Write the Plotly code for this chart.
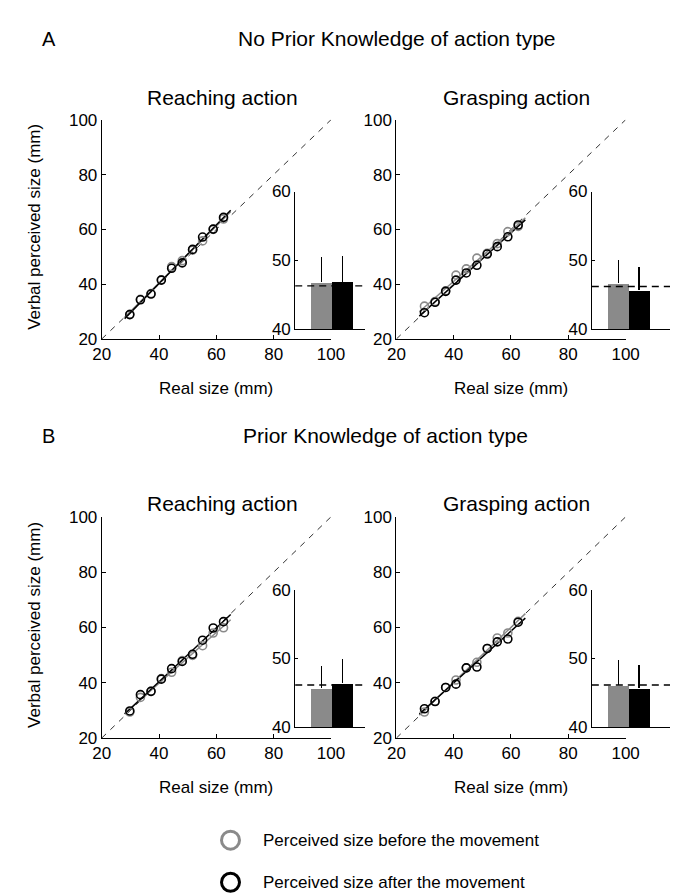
import numpy as np
import plotly.graph_objects as go

W, H = 678, 895
FONT = "Liberation Sans"

# ---------------- data ----------------
real_size = [29.8, 33.5, 37.2, 40.8, 44.4, 48.1, 51.7, 55.2, 58.9, 62.5]

a_reach_before = [29.0, 34.5, 36.6, 41.6, 46.4, 48.6, 52.4, 55.8, 60.0, 63.8]
a_reach_after = [28.9, 34.3, 36.4, 41.5, 45.8, 47.8, 52.7, 57.2, 60.1, 64.4]
a_grasp_before = [32.0, 33.7, 37.6, 43.3, 45.6, 49.5, 51.3, 54.8, 59.2, 61.1]
a_grasp_after = [29.6, 33.4, 37.4, 41.5, 44.1, 46.9, 51.0, 53.7, 57.3, 61.6]
b_reach_before = [29.4, 34.7, 36.9, 41.5, 43.8, 48.0, 49.9, 53.4, 58.0, 59.9]
b_reach_after = [29.8, 35.7, 36.9, 41.3, 45.1, 47.7, 50.3, 55.4, 59.8, 62.1]
b_grasp_before = [29.4, 33.3, 38.3, 41.0, 45.4, 47.4, 52.4, 56.2, 58.0, 62.2]
b_grasp_after = [30.6, 33.2, 38.3, 39.5, 45.4, 45.7, 52.4, 54.8, 55.8, 61.9]

fit_span = [28, 65]
identity_line = [20, 100]

bar_positions = [1, 2]  # before, after
a_reach_bar = [46.8, 46.9]
a_reach_err = [3.7, 3.8]
a_grasp_bar = [46.7, 45.65]
a_grasp_err = [3.3, 3.4]
b_reach_bar = [45.65, 46.36]
b_reach_err = [3.25, 3.55]
b_grasp_bar = [46.07, 45.65]
b_grasp_err = [3.7, 3.35]
ref_mean = [46.3, 46.2, 46.1, 46.1]

main_ticks = [20, 40, 60, 80, 100]
inset_ticks = [40, 50, 60]

section_titles = ["No Prior Knowledge of action type", "Prior Knowledge of action type"]
section_letters = ["A", "B"]
panel_titles = ["Reaching action", "Grasping action"]
legend_labels = ["Perceived size before the movement", "Perceived size after the movement"]

GRAY = "#8a8a8a"
BLACK = "#000000"

# ---------------- layout geometry (pixels) ----------------
main_x_px = [(87.7, 325.0), (392.7, 630.0)]
main_y_px = [(105.0, 329.0), (510.7, 736.7)]
inset_x_px = [(288.0, 360.0), (595.0, 677.0)]
inset_y_px = [(178.3, 319.0), (585.0, 725.3)]
inset_ranges = [[-0.27, 3.08], [-0.27, 3.54]]


def xd(a, b):
    return [a / W, b / W]


def yd(top, bottom):
    return [1 - bottom / H, 1 - top / H]


panels = [
    (a_reach_before, a_reach_after, a_reach_bar, a_reach_err, ref_mean[0]),
    (a_grasp_before, a_grasp_after, a_grasp_bar, a_grasp_err, ref_mean[1]),
    (b_reach_before, b_reach_after, b_reach_bar, b_reach_err, ref_mean[2]),
    (b_grasp_before, b_grasp_after, b_grasp_bar, b_grasp_err, ref_mean[3]),
]

fig = go.Figure()
layout = {}
shapes = []
annotations = []

axis_font = dict(family=FONT, size=17, color="black")

for i, (before, after, bars, errs, mean_val) in enumerate(panels):
    row, col = divmod(i, 2)
    mi = 2 * i + 1
    ii = 2 * i + 2
    mx, my = f"x{mi}", f"y{mi}"
    ix, iy = f"x{ii}", f"y{ii}"
    xk = "xaxis" if mi == 1 else f"xaxis{mi}"
    yk = "yaxis" if mi == 1 else f"yaxis{mi}"

    # main axes
    layout[xk] = dict(domain=xd(*main_x_px[col]), range=[20, 100], anchor=my,
                      showline=True, linecolor="black", linewidth=1, mirror=False,
                      ticks="inside", ticklen=4, tickcolor="black", tickvals=main_ticks,
                      showgrid=False, zeroline=False, tickfont=axis_font)
    layout[yk] = dict(domain=yd(*main_y_px[row]), range=[20, 100], anchor=mx,
                      showline=True, linecolor="black", linewidth=1,
                      ticks="inside", ticklen=4, tickcolor="black", tickvals=main_ticks,
                      showgrid=False, zeroline=False, tickfont=axis_font)
    # inset axes
    layout[f"xaxis{ii}"] = dict(domain=xd(*inset_x_px[col]), range=inset_ranges[col], anchor=iy,
                                showline=True, linecolor="black", linewidth=1,
                                ticks="", showticklabels=False, showgrid=False, zeroline=False)
    layout[f"yaxis{ii}"] = dict(domain=yd(*inset_y_px[row]), range=[40, 60], anchor=ix,
                                showline=True, linecolor="black", linewidth=1,
                                ticks="inside", ticklen=3, tickcolor="black", tickvals=inset_ticks,
                                showgrid=False, zeroline=False, tickfont=axis_font)

    # identity dashed line
    fig.add_trace(go.Scatter(x=identity_line, y=identity_line, mode="lines",
                             line=dict(color="#333333", width=1, dash="6px,6px"),
                             xaxis=mx, yaxis=my, showlegend=False, hoverinfo="skip"))
    # regression lines
    for ys, colr in ((before, GRAY), (after, BLACK)):
        k, b0 = np.polyfit(real_size, ys, 1)
        fx = np.array(fit_span, dtype=float)
        fig.add_trace(go.Scatter(x=fx, y=k * fx + b0, mode="lines",
                                 line=dict(color=colr, width=1.5),
                                 xaxis=mx, yaxis=my, showlegend=False, hoverinfo="skip"))
    # data points
    for ys, colr in ((before, GRAY), (after, BLACK)):
        fig.add_trace(go.Scatter(x=real_size, y=ys, mode="markers",
                                 marker=dict(symbol="circle-open", size=8, color=colr,
                                             line=dict(width=1.6, color=colr)),
                                 xaxis=mx, yaxis=my, showlegend=False))
    # inset bars
    fig.add_trace(go.Bar(x=bar_positions, y=bars, width=1.0,
                         marker=dict(color=[GRAY, BLACK], line=dict(width=0)),
                         error_y=dict(type="data", array=errs, arrayminus=[0, 0],
                                      symmetric=False, color="black", thickness=1.2, width=0),
                         xaxis=ix, yaxis=iy, showlegend=False))
    shapes.append(dict(type="line", xref=f"{ix} domain", x0=0, x1=1, yref=iy,
                       y0=mean_val, y1=mean_val,
                       line=dict(color="black", width=1.4, dash="7px,5px")))

    # panel title and axis titles
    cx = [212.5, 517.0][col]
    ty = [82.0, 497.0][row]
    annotations.append(dict(text=panel_titles[col], x=cx / W, y=1 - ty / H, xref="paper", yref="paper",
                            showarrow=False, xanchor="center", yanchor="middle",
                            font=dict(family=FONT, size=21, color="black")))
    xt = (main_x_px[col][0] + main_x_px[col][1]) / 2
    xty = main_y_px[row][1] + 51
    annotations.append(dict(text="Real size (mm)", x=xt / W, y=1 - xty / H, xref="paper", yref="paper",
                            showarrow=False, xanchor="center", yanchor="middle",
                            font=dict(family=FONT, size=17, color="black")))
    if col == 0:
        yc = (main_y_px[row][0] + main_y_px[row][1]) / 2 - 3
        annotations.append(dict(text="Verbal perceived size (mm)", x=18 / W, y=1 - yc / H,
                                xref="paper", yref="paper", showarrow=False, textangle=-90,
                                xanchor="center", yanchor="middle",
                                font=dict(family=FONT, size=17, color="black")))

# section letters and titles
for r in range(2):
    ly = [22.0, 428.0][r]
    annotations.append(dict(text=section_letters[r], x=33 / W, y=1 - ly / H, xref="paper", yref="paper",
                            showarrow=False, xanchor="center", yanchor="middle",
                            font=dict(family=FONT, size=20, color="black")))
    sx = [227.0, 232.0][r]
    annotations.append(dict(text=section_titles[r], x=sx / W, y=1 - ly / H, xref="paper", yref="paper",
                            showarrow=False, xanchor="left", yanchor="middle",
                            font=dict(family=FONT, size=21, color="black")))

# legend (drawn manually on a hidden pixel-space axis)
layout["xaxis9"] = dict(domain=[0, 1], range=[0, W], visible=False, anchor="y9")
layout["yaxis9"] = dict(domain=[0, 1], range=[H, 0], visible=False, anchor="x9")
legend_y = [841.0, 884.0]
for lab, colr, ly in zip(legend_labels, [GRAY, BLACK], legend_y):
    fig.add_trace(go.Scatter(x=[221.0], y=[ly], mode="markers",
                             marker=dict(symbol="circle-open", size=18, color=colr,
                                         line=dict(width=3, color=colr)),
                             xaxis="x9", yaxis="y9", showlegend=False, hoverinfo="skip"))
    annotations.append(dict(text=lab, x=253 / W, y=1 - ly / H, xref="paper", yref="paper",
                            showarrow=False, xanchor="left", yanchor="middle",
                            font=dict(family=FONT, size=17, color="black")))

fig.update_layout(
    width=W, height=H, autosize=False,
    margin=dict(l=0, r=0, t=0, b=0),
    paper_bgcolor="white", plot_bgcolor="rgba(0,0,0,0)",
    bargap=0, showlegend=False,
    shapes=shapes, annotations=annotations,
    font=dict(family=FONT, color="black"),
    **layout,
)

fig.write_html("out.html")
